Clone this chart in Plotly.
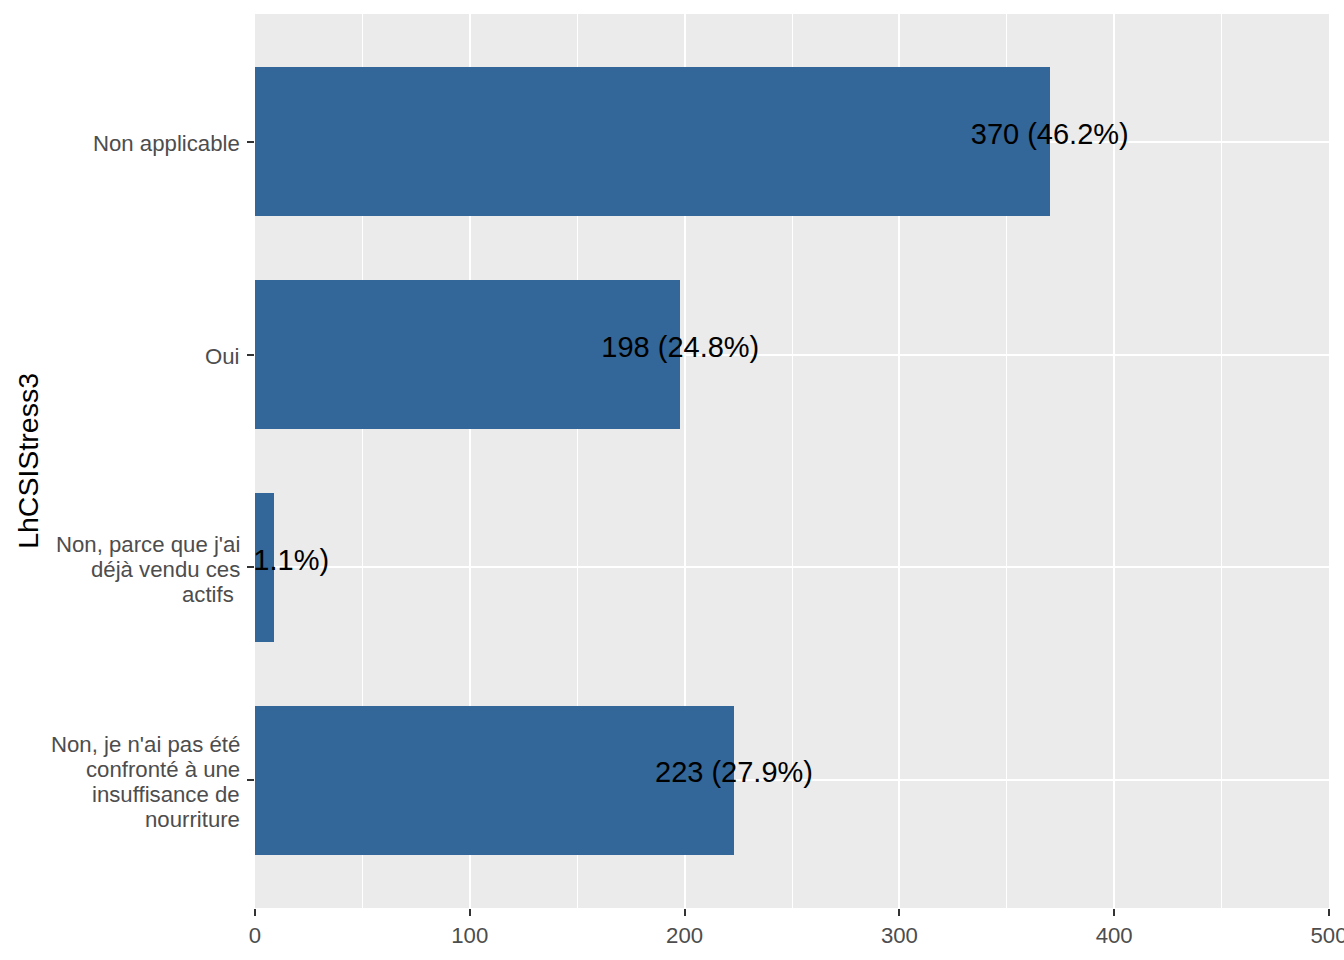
import plotly.graph_objects as go

# Data (top-to-bottom order as displayed)
categories = [
    "Non applicable",
    "Oui",
    "Non, parce que j'ai\ndéjà vendu ces\nactifs\u00a0",
    "Non, je n'ai pas été\nconfronté à une\ninsuffisance de\nnourriture",
]
counts = [370, 198, 9, 223]
total = sum(counts)
labels = [f"{c} ({c / total * 100:.1f}%)" for c in counts]

x_ticks = [0, 100, 200, 300, 400, 500]

# numeric positions: first category on top
n = len(categories)
ypos = [n - 1 - i for i in range(n)]
label_offset = 0.024  # text drawn slightly above the bar centre
LINE_PX = 25          # ggplot-like line spacing for wrapped tick labels

BAR = "#336699"
FONT = "Liberation Sans, Arial, sans-serif"
TICK_COL = "#4D4D4D"

fig = go.Figure()
fig.add_trace(go.Bar(
    x=counts, y=ypos, orientation="h", width=0.7,
    marker=dict(color=BAR, line=dict(width=0)),
    hoverinfo="skip", showlegend=False,
))
fig.add_trace(go.Scatter(
    x=counts, y=[p + label_offset for p in ypos], mode="text",
    text=labels, textposition="middle center",
    textfont=dict(family=FONT, size=29, color="black"),
    cliponaxis=True, hoverinfo="skip", showlegend=False,
))

annotations = []
# y tick labels, drawn line by line for ggplot-like line spacing
for cat, p in zip(categories, ypos):
    lines = cat.split("\n")
    k = len(lines)
    for i, line in enumerate(lines):
        annotations.append(dict(
            text=line, xref="paper", yref="y", x=0, y=p,
            xanchor="right", yanchor="middle", xshift=-13,
            yshift=((k - 1) / 2 - i) * LINE_PX - 2,
            showarrow=False,
            font=dict(family=FONT, size=22.2, color=TICK_COL),
        ))
annotations.append(dict(
    text="LhCSIStress3", xref="paper", yref="paper",
    x=-0.2115, y=0.5, xanchor="center", yanchor="middle",
    textangle=-90, showarrow=False,
    font=dict(family=FONT, size=28.5, color="black"),
))

fig.update_layout(
    width=1344, height=960,
    margin=dict(l=255, r=15, t=14, b=52, autoexpand=False),
    paper_bgcolor="white", plot_bgcolor="#EBEBEB",
    font=dict(family=FONT),
    bargap=0,
    xaxis=dict(
        range=[0, 500], tickvals=x_ticks, ticktext=[str(v) for v in x_ticks],
        showgrid=True, gridcolor="white", gridwidth=2,
        minor=dict(tickvals=[50, 150, 250, 350, 450], showgrid=True,
                   gridcolor="white", gridwidth=1, ticks=""),
        ticks="outside", ticklen=7, tickwidth=1.5, tickcolor="#333333",
        tickfont=dict(family=FONT, size=22.2, color=TICK_COL),
        ticklabeloverflow="allow",
        zeroline=False, showline=False,
    ),
    yaxis=dict(
        range=[-0.6, n - 1 + 0.6], tickvals=ypos,
        ticktext=["" for _ in ypos],
        showgrid=True, gridcolor="white", gridwidth=2,
        ticks="outside", ticklen=7, tickwidth=1.5, tickcolor="#333333",
        zeroline=False, showline=False,
    ),
    annotations=annotations,
)

fig.write_html(
    "out.html",
    config={"displayModeBar": False},
    post_script="document.body.style.margin='0';document.body.style.padding='0';",
)
